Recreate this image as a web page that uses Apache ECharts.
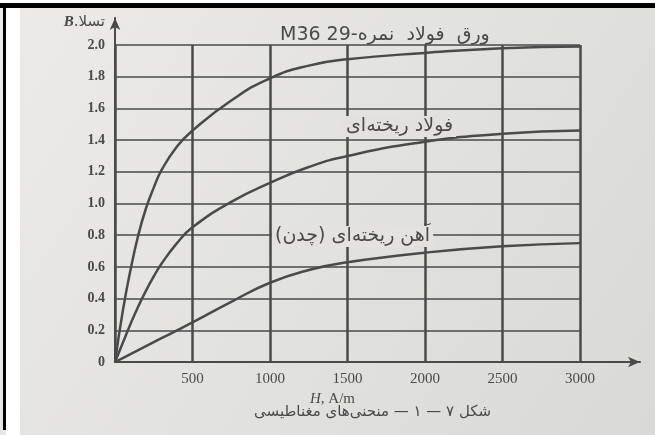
<!DOCTYPE html>
<html>
<head>
<meta charset="utf-8">
<script src="https://cdn.jsdelivr.net/npm/echarts@6/dist/echarts.min.js"></script>
<style>
  html, body { margin: 0; padding: 0; }
  #main { width: 655px; height: 435px; }
</style>
</head>
<body>
<div id="main"></div>
<script>
// H, A/m
var hValues = [0, 50, 100, 150, 200, 250, 300, 400, 500, 750, 1000, 1250, 1500, 2000, 2500, 3000];
// B, T
var sheetSteel = [0, 0.32, 0.58, 0.8, 0.97, 1.1, 1.21, 1.36, 1.46, 1.65, 1.79, 1.87, 1.91, 1.95, 1.98, 1.99];
var castSteel = [0, 0.12, 0.24, 0.35, 0.45, 0.54, 0.62, 0.75, 0.85, 1.01, 1.13, 1.23, 1.3, 1.39, 1.44, 1.46];
var castIron = [0, 0.025, 0.05, 0.075, 0.1, 0.125, 0.15, 0.2, 0.25, 0.38, 0.5, 0.58, 0.63, 0.69, 0.73, 0.75];
var seriesNames = ['ورق فولاد نمره 29-M36', 'فولاد ریخته‌ای', 'آهن ریخته‌ای (چدن)'];

function pairs(ys) {
    return hValues.map(function (h, i) { return [h, ys[i]]; });
}

var ink = '#4a4a4a';
var fontLat = '"Liberation Serif", "DejaVu Serif", serif';
var fontFa = '"DejaVu Sans", sans-serif';

var myChart = echarts.init(document.getElementById('main'));
option = {
    animation: false,
    backgroundColor: new echarts.graphic.LinearGradient(0, 0, 1, 1, [
        { offset: 0, color: '#ecebe9' },
        { offset: 1, color: '#d9d9d7' }
    ]),
    graphic: [
        { type: 'rect', left: 0, top: 0, shape: { width: 655, height: 3 }, style: { fill: '#fff' } },
        { type: 'rect', left: 0, top: 3, shape: { width: 655, height: 5 }, style: { fill: '#000' } },
        { type: 'rect', left: 6, top: 8, shape: { width: 14, height: 427 }, style: { fill: '#fff' } },
        { type: 'rect', left: 3, top: 3, shape: { width: 3, height: 427 }, style: { fill: '#000' } },
        {
            type: 'text', left: 280, top: 26,
            style: { text: 'M36 29-ورق  فولاد  نمره', font: '19px ' + fontFa, fill: ink }
        },
        {
            type: 'text', left: 343, top: 116, z: 10,
            style: {
                text: 'فولاد ریخته‌ای', font: '19px ' + fontFa, fill: ink,
                backgroundColor: '#e2e1df', padding: [1, 3]
            }
        },
        {
            type: 'text', left: 272, top: 226, z: 10,
            style: {
                text: 'آهن ریخته‌ای (چدن)\u200F', font: '19px ' + fontFa, fill: ink,
                backgroundColor: '#e3e2e0', padding: [1, 3]
            }
        },
        {
            type: 'text', left: 254, top: 405,
            style: { text: 'شکل ۷ — ۱ — منحنی‌های مغناطیسی', font: '15px ' + fontFa, fill: ink }
        }
    ],
    grid: [
        { left: 115, right: 75, top: 45, bottom: 73 },
        { left: 115, right: 15, top: 18, bottom: 73 }
    ],
    xAxis: [{
        type: 'value',
        gridIndex: 0,
        min: 0,
        max: 3000,
        interval: 500,
        axisLine: { show: false },
        axisTick: { show: false },
        axisLabel: {
            showMinLabel: false,
            margin: 10,
            color: ink,
            fontFamily: fontLat,
            fontSize: 15,
            formatter: function (v) { return String(v); }
        },
        splitLine: { lineStyle: { color: ink, width: 2.5 } },
        name: '{i|H}, A/m',
        nameLocation: 'middle',
        nameGap: 20,
        nameTextStyle: {
            color: ink, fontFamily: fontLat, fontSize: 15, padding: [0, 30, 0, 0],
            rich: { i: { fontStyle: 'italic', color: ink, fontFamily: fontLat, fontSize: 15 } }
        }
    }, {
        type: 'value',
        gridIndex: 1,
        min: 0,
        max: 1,
        axisLine: { show: true, symbol: ['none', 'arrow'], symbolSize: [8, 12], lineStyle: { color: ink, width: 2 } },
        axisTick: { show: false },
        axisLabel: { show: false },
        splitLine: { show: false }
    }],
    yAxis: [{
        type: 'value',
        gridIndex: 0,
        min: 0,
        max: 2,
        interval: 0.2,
        axisLine: { show: false },
        axisTick: { show: false },
        axisLabel: {
            margin: 10,
            color: ink,
            fontFamily: fontLat,
            fontSize: 14,
            fontWeight: 'bold',
            formatter: function (v) { return v === 0 ? '0' : v.toFixed(1); }
        },
        splitLine: { lineStyle: { color: ink, width: 1.5 } }
    }, {
        type: 'value',
        gridIndex: 1,
        min: 0,
        max: 1,
        axisLine: { show: true, symbol: ['none', 'arrow'], symbolSize: [8, 12], lineStyle: { color: ink, width: 2 } },
        axisTick: { show: false },
        axisLabel: { show: false },
        splitLine: { show: false },
        name: '{i|B}.تسلا',
        nameLocation: 'end',
        nameGap: -4,
        nameTextStyle: {
            align: 'right', verticalAlign: 'middle', padding: [0, 10, 0, 0],
            color: ink, fontFamily: fontFa, fontSize: 15,
            rich: { i: { fontStyle: 'italic', fontWeight: 'bold', color: ink, fontFamily: fontLat, fontSize: 15 } }
        }
    }],
    series: [{
        name: seriesNames[0],
        type: 'line',
        xAxisIndex: 0, yAxisIndex: 0,
        smooth: 0.5,
        showSymbol: false,
        lineStyle: { color: ink, width: 2.5 },
        data: pairs(sheetSteel)
    }, {
        name: seriesNames[1],
        type: 'line',
        xAxisIndex: 0, yAxisIndex: 0,
        smooth: 0.5,
        showSymbol: false,
        lineStyle: { color: ink, width: 2.5 },
        data: pairs(castSteel)
    }, {
        name: seriesNames[2],
        type: 'line',
        xAxisIndex: 0, yAxisIndex: 0,
        smooth: 0.5,
        showSymbol: false,
        lineStyle: { color: ink, width: 2.5 },
        data: pairs(castIron)
    }]
};

myChart.setOption(option);
window.onresize = myChart.resize;
</script>
</body>
</html>
